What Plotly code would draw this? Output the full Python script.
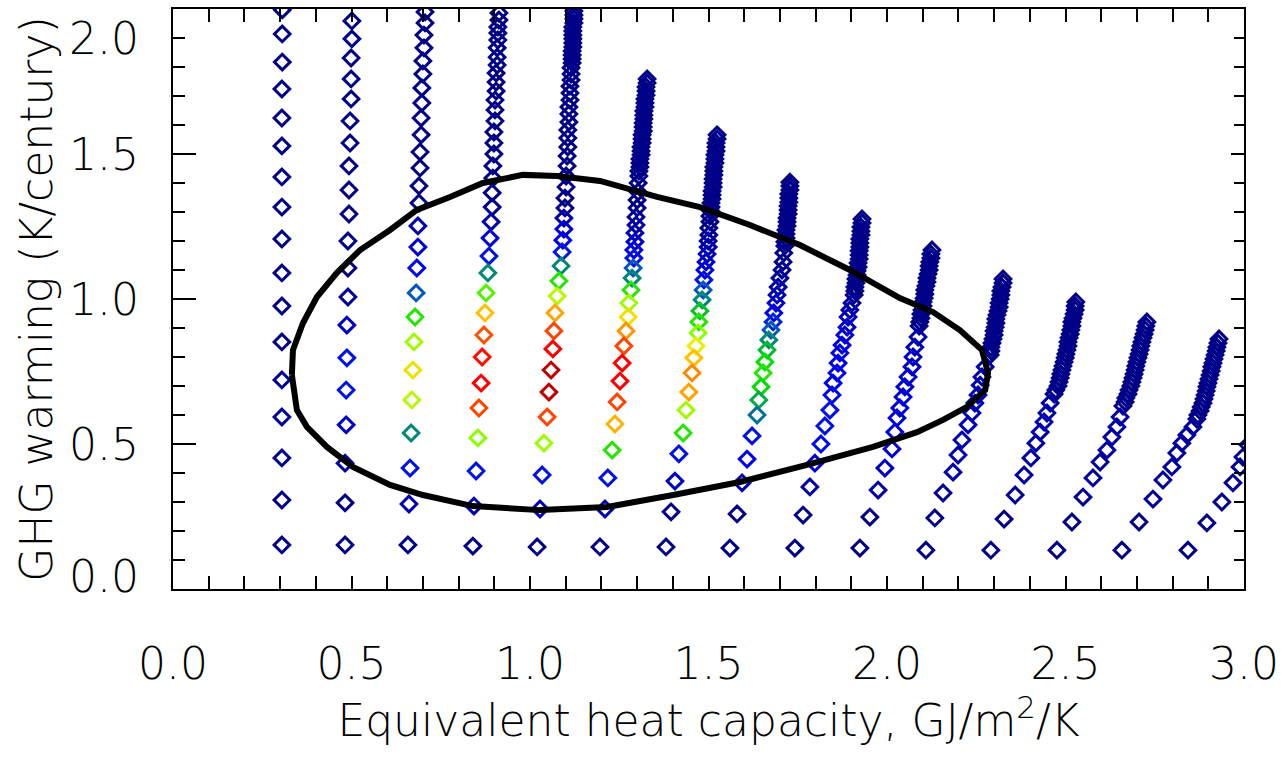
import numpy as np
import plotly.graph_objects as go

# ---------------- data ----------------
COL1_X = [0.306, 0.306, 0.306, 0.305, 0.305, 0.305, 0.305, 0.305, 0.305, 0.305, 0.305, 0.305, 0.305, 0.305, 0.305, 0.305, 0.305]
COL1_Y = [1.997, 1.914, 1.817, 1.724, 1.624, 1.528, 1.421, 1.317, 1.207, 1.090, 0.976, 0.852, 0.721, 0.593, 0.452, 0.307, 0.152]
COL1_S = [0, 0, 0, 0, 0, 0, 0, 0, 0, 0, 0, 0, 0.02, 0.03, 0.02, 0, 0]

COL2_X = [0.501, 0.501, 0.499, 0.499, 0.499, 0.496, 0.496, 0.493, 0.493, 0.493, 0.490, 0.490, 0.490, 0.487, 0.487, 0.485, 0.485, 0.482, 0.482, 0.482]
COL2_Y = [1.959, 1.897, 1.831, 1.759, 1.690, 1.614, 1.538, 1.459, 1.376, 1.293, 1.200, 1.107, 1.007, 0.910, 0.797, 0.686, 0.566, 0.434, 0.297, 0.152]
COL2_S = [0, 0, 0, 0, 0, 0, 0, 0, 0, 0, 0, 0, 0.02, 0.07, 0.14, 0.14, 0.08, 0.04, 0, 0]

COL3_X = [0.706, 0.706, 0.703, 0.703, 0.700, 0.700, 0.697, 0.697, 0.695, 0.695, 0.692, 0.692, 0.689, 0.689, 0.686, 0.686, 0.683, 0.681, 0.678, 0.675, 0.672, 0.669, 0.667, 0.664, 0.661, 0.658]
COL3_Y = [1.990, 1.952, 1.910, 1.866, 1.821, 1.776, 1.728, 1.676, 1.624, 1.566, 1.507, 1.452, 1.390, 1.331, 1.252, 1.179, 1.107, 1.021, 0.938, 0.852, 0.755, 0.652, 0.538, 0.417, 0.293, 0.152]
COL3_S = [0, 0, 0, 0, 0, 0, 0, 0, 0, 0, 0, 0, 0, 0, 0.05, 0.09, 0.13, 0.22, 0.42, 0.50, 0.58, 0.52, 0.30, 0.14, 0.05, 0]

COL4_X = [0.913, 0.913, 0.910, 0.910, 0.910, 0.908, 0.908, 0.908, 0.905, 0.905, 0.905, 0.902, 0.902, 0.902, 0.899, 0.899, 0.899, 0.896, 0.896, 0.894, 0.894, 0.891, 0.888, 0.885, 0.882, 0.877, 0.874, 0.871, 0.866, 0.863, 0.857, 0.854, 0.849, 0.843, 0.840]
COL4_Y = [1.986, 1.962, 1.938, 1.917, 1.893, 1.866, 1.834, 1.807, 1.779, 1.748, 1.717, 1.686, 1.652, 1.614, 1.576, 1.538, 1.500, 1.459, 1.417, 1.366, 1.317, 1.266, 1.210, 1.148, 1.090, 1.021, 0.952, 0.876, 0.800, 0.710, 0.624, 0.521, 0.407, 0.286, 0.148]
COL4_S = [0] * 21 + [0.05, 0.10, 0.14, 0.30, 0.45, 0.62, 0.78, 0.88, 0.90, 0.80, 0.48, 0.14, 0.05, 0]

COL5_X = [1.123, 1.123, 1.123, 1.123, 1.120, 1.120, 1.120, 1.120, 1.120, 1.120, 1.118, 1.118, 1.118, 1.118,
          1.115, 1.115, 1.115, 1.112, 1.112, 1.112, 1.109, 1.109, 1.109, 1.106, 1.106, 1.106, 1.104, 1.104, 1.101, 1.101, 1.098, 1.098,
          1.095, 1.095, 1.092, 1.090, 1.087, 1.081, 1.076, 1.070, 1.067, 1.064, 1.059, 1.053, 1.048, 1.039, 1.034, 1.028, 1.020]
COL5_Y = [1.993, 1.979, 1.966, 1.952, 1.938, 1.924, 1.910, 1.897, 1.883, 1.869, 1.855, 1.841, 1.828, 1.814,
          1.797, 1.776, 1.755, 1.734, 1.710, 1.686, 1.662, 1.638, 1.610, 1.583, 1.555, 1.524, 1.493, 1.459, 1.424, 1.386, 1.348, 1.314,
          1.279, 1.241, 1.203, 1.162, 1.114, 1.062, 1.010, 0.952, 0.890, 0.828, 0.755, 0.679, 0.593, 0.503, 0.393, 0.276, 0.145]
COL5_S = [0] * 32 + [0.05, 0.09, 0.12, 0.15, 0.30, 0.42, 0.52, 0.66, 0.80, 0.90, 1.00, 1.00, 0.80, 0.50, 0.14, 0.05, 0]

COL6_X = [1.328, 1.328, 1.325, 1.325, 1.325, 1.322, 1.322, 1.322, 1.319, 1.319, 1.319, 1.317, 1.317, 1.317, 1.314, 1.314, 1.314, 1.311, 1.311, 1.311, 1.308, 1.308, 1.308, 1.305,
          1.305, 1.303, 1.303, 1.300, 1.300, 1.297, 1.297, 1.294, 1.294, 1.291, 1.291, 1.289, 1.286, 1.283, 1.277, 1.275, 1.269, 1.263, 1.258, 1.252, 1.244, 1.238, 1.230, 1.218, 1.210, 1.196]
COL6_Y = [1.759, 1.745, 1.731, 1.717, 1.703, 1.690, 1.676, 1.662, 1.648, 1.634, 1.621, 1.607, 1.593, 1.579, 1.566, 1.552, 1.538, 1.524, 1.510, 1.497, 1.483, 1.469, 1.455, 1.441,
          1.424, 1.400, 1.369, 1.341, 1.314, 1.283, 1.255, 1.228, 1.197, 1.169, 1.141, 1.107, 1.072, 1.031, 0.986, 0.938, 0.890, 0.838, 0.779, 0.717, 0.645, 0.569, 0.479, 0.383, 0.276, 0.145]
COL6_S = [0] * 24 + [0, 0, 0, 0, 0, 0.02, 0.03, 0.05, 0.08, 0.12, 0.14, 0.22, 0.30, 0.42, 0.50, 0.58, 0.68, 0.80, 0.90, 0.90, 0.80, 0.64, 0.42, 0.14, 0.05, 0]

COL7_X = [1.524, 1.524, 1.521, 1.521, 1.521, 1.518, 1.518, 1.518, 1.515, 1.515, 1.515, 1.513, 1.513, 1.513, 1.510, 1.510, 1.510, 1.507, 1.507, 1.507,
          1.504, 1.504, 1.501, 1.501, 1.499, 1.499, 1.496, 1.493, 1.490, 1.487, 1.485, 1.482, 1.476, 1.473, 1.471, 1.465, 1.459, 1.454, 1.445, 1.437, 1.429, 1.417, 1.406, 1.395, 1.381]
COL7_Y = [1.566, 1.552, 1.538, 1.524, 1.510, 1.497, 1.483, 1.469, 1.455, 1.441, 1.428, 1.414, 1.400, 1.386, 1.372, 1.359, 1.345, 1.331, 1.317, 1.303,
          1.286, 1.266, 1.245, 1.221, 1.200, 1.179, 1.155, 1.128, 1.100, 1.066, 1.031, 0.997, 0.959, 0.921, 0.883, 0.838, 0.797, 0.745, 0.679, 0.617, 0.538, 0.466, 0.372, 0.266, 0.145]
COL7_S = [0] * 20 + [0, 0, 0, 0.02, 0.03, 0.04, 0.05, 0.08, 0.11, 0.14, 0.22, 0.30, 0.37, 0.42, 0.48, 0.56, 0.62, 0.70, 0.66, 0.50, 0.42, 0.14, 0.07, 0, 0]

COL8_X = [1.728, 1.728, 1.728, 1.725, 1.725, 1.725, 1.723, 1.723, 1.723, 1.720, 1.720, 1.720, 1.717, 1.717, 1.717, 1.714, 1.714,
          1.711, 1.709, 1.706, 1.700, 1.695, 1.692, 1.689, 1.683, 1.681, 1.675, 1.669, 1.664, 1.658, 1.653, 1.647, 1.641, 1.636, 1.622, 1.608, 1.594, 1.580, 1.560]
COL8_Y = [1.403, 1.390, 1.376, 1.362, 1.348, 1.334, 1.321, 1.307, 1.293, 1.279, 1.266, 1.252, 1.238, 1.224, 1.210, 1.197, 1.183,
          1.159, 1.128, 1.100, 1.072, 1.041, 1.014, 0.986, 0.952, 0.921, 0.893, 0.859, 0.824, 0.783, 0.745, 0.697, 0.652, 0.600, 0.528, 0.448, 0.366, 0.259, 0.141]
COL8_S = [0] * 17 + [0, 0, 0.02, 0.03, 0.04, 0.05, 0.08, 0.12, 0.16, 0.22, 0.30, 0.36, 0.40, 0.42, 0.40, 0.34, 0.26, 0.14, 0.12, 0.05, 0, 0]

COL9_X = [1.930, 1.930, 1.927, 1.927, 1.927, 1.924, 1.924, 1.924, 1.922, 1.922, 1.922, 1.919, 1.919, 1.916, 1.916, 1.913, 1.913, 1.910, 1.910, 1.908,
          1.902, 1.896, 1.891, 1.888, 1.882, 1.874, 1.868, 1.863, 1.860, 1.849, 1.846, 1.840, 1.826, 1.815, 1.798, 1.784, 1.765, 1.742]
COL9_Y = [1.276, 1.262, 1.248, 1.234, 1.221, 1.207, 1.193, 1.179, 1.166, 1.152, 1.138, 1.124, 1.110, 1.097, 1.083, 1.069, 1.055, 1.041, 1.028, 1.014,
          0.986, 0.962, 0.938, 0.903, 0.876, 0.841, 0.814, 0.779, 0.745, 0.710, 0.669, 0.617, 0.562, 0.500, 0.434, 0.352, 0.255, 0.141]
COL9_S = [0] * 20 + [0.03, 0.05, 0.06, 0.08, 0.09, 0.10, 0.11, 0.12, 0.12, 0.12, 0.13, 0.14, 0.14, 0.13, 0.10, 0.04, 0, 0]

COL10_X = [2.126, 2.123, 2.123, 2.120, 2.118, 2.118, 2.115, 2.112, 2.112, 2.109, 2.106, 2.106, 2.104, 2.101, 2.101, 2.098, 2.095, 2.095, 2.092, 2.090,
           2.087, 2.078, 2.073, 2.070, 2.059, 2.050, 2.045, 2.036, 2.028, 2.022, 2.014, 1.994, 1.975, 1.952, 1.924]
COL10_Y = [1.169, 1.155, 1.141, 1.128, 1.114, 1.100, 1.086, 1.072, 1.059, 1.045, 1.031, 1.017, 1.003, 0.990, 0.976, 0.962, 0.948, 0.934, 0.921, 0.907,
           0.869, 0.834, 0.800, 0.766, 0.731, 0.697, 0.662, 0.624, 0.590, 0.541, 0.483, 0.417, 0.341, 0.248, 0.141]
COL10_S = [0] * 20 + [0.05, 0.06, 0.07, 0.08, 0.08, 0.09, 0.10, 0.10, 0.10, 0.10, 0.09, 0.07, 0.04, 0, 0]

COL11_X = [2.325, 2.325, 2.322, 2.319, 2.319, 2.317, 2.314, 2.314, 2.311, 2.308, 2.305, 2.305, 2.303, 2.300, 2.300, 2.297, 2.294, 2.291, 2.291, 2.289,
           2.275, 2.266, 2.261, 2.255, 2.246, 2.238, 2.227, 2.210, 2.199, 2.185, 2.157, 2.134, 2.109]
COL11_Y = [1.069, 1.055, 1.041, 1.028, 1.014, 1.000, 0.986, 0.972, 0.959, 0.945, 0.931, 0.917, 0.903, 0.890, 0.876, 0.862, 0.848, 0.834, 0.821, 0.807,
           0.766, 0.731, 0.703, 0.669, 0.641, 0.607, 0.566, 0.514, 0.462, 0.403, 0.331, 0.245, 0.134]
COL11_S = [0] * 20 + [0.04, 0.05, 0.06, 0.06, 0.06, 0.06, 0.06, 0.05, 0.05, 0.04, 0.02, 0, 0]

COL12_X = [2.529, 2.527, 2.527, 2.524, 2.521, 2.518, 2.518, 2.515, 2.513, 2.510, 2.507, 2.507, 2.504, 2.501, 2.499, 2.496, 2.493, 2.490, 2.487, 2.485, 2.482, 2.479, 2.473, 2.468,
           2.457, 2.448, 2.440, 2.429, 2.417, 2.403, 2.384, 2.359, 2.328, 2.291]
COL12_Y = [0.990, 0.976, 0.962, 0.948, 0.934, 0.921, 0.907, 0.893, 0.879, 0.866, 0.852, 0.838, 0.824, 0.810, 0.797, 0.783, 0.769, 0.755, 0.741, 0.728, 0.714, 0.700, 0.686, 0.672,
           0.641, 0.607, 0.576, 0.541, 0.503, 0.452, 0.393, 0.324, 0.241, 0.134]
COL12_S = [0] * 24 + [0.04, 0.05, 0.05, 0.05, 0.04, 0.04, 0.03, 0.02, 0, 0]

COL13_X = [2.728, 2.725, 2.723, 2.720, 2.717, 2.714, 2.711, 2.709, 2.706, 2.703, 2.700, 2.697, 2.695, 2.692, 2.689, 2.686, 2.683, 2.678, 2.675, 2.669, 2.667, 2.661,
           2.653, 2.644, 2.630, 2.616, 2.597, 2.577, 2.549, 2.518, 2.476]
COL13_Y = [0.921, 0.907, 0.893, 0.879, 0.866, 0.852, 0.838, 0.824, 0.810, 0.797, 0.783, 0.769, 0.755, 0.741, 0.728, 0.714, 0.700, 0.686, 0.672, 0.659, 0.645, 0.631,
           0.593, 0.559, 0.524, 0.479, 0.438, 0.383, 0.317, 0.231, 0.134]
COL13_S = [0] * 22 + [0.04, 0.04, 0.04, 0.04, 0.03, 0.03, 0.02, 0, 0]

COL14_X = [2.930, 2.927, 2.924, 2.922, 2.919, 2.916, 2.913, 2.910, 2.908, 2.905, 2.902, 2.899, 2.896, 2.894, 2.891, 2.888, 2.885, 2.880, 2.877, 2.871, 2.868,
           2.857, 2.840, 2.826, 2.812, 2.798, 2.773, 2.745, 2.706, 2.658]
COL14_Y = [0.862, 0.848, 0.834, 0.821, 0.807, 0.793, 0.779, 0.766, 0.752, 0.738, 0.724, 0.710, 0.697, 0.683, 0.669, 0.655, 0.641, 0.628, 0.614, 0.600, 0.586,
           0.559, 0.531, 0.503, 0.469, 0.421, 0.376, 0.310, 0.231, 0.134]
COL14_S = [0] * 21 + [0.03, 0.03, 0.03, 0.03, 0.03, 0.02, 0.02, 0, 0]

COL15_X = [3.011, 2.997, 2.989, 2.969, 2.938, 2.896, 2.843]
COL15_Y = [0.497, 0.455, 0.421, 0.366, 0.300, 0.228, 0.134]
COL15_S = [0.02, 0.02, 0.02, 0.02, 0.02, 0, 0]

CONTOUR_X = [0.333, 0.336, 0.364, 0.403, 0.459, 0.524, 0.608, 0.683, 0.776, 0.868, 0.980, 1.076, 1.196, 1.272,
             1.356, 1.476, 1.616, 1.756, 1.896, 2.036, 2.129, 2.204, 2.266, 2.283, 2.275, 2.224, 2.157, 2.084,
             1.961, 1.776, 1.588, 1.401, 1.216, 1.028, 0.936, 0.840, 0.700, 0.608, 0.504, 0.431, 0.375, 0.347, 0.333]
CONTOUR_Y = [0.738, 0.824, 0.917, 1.007, 1.090, 1.169, 1.238, 1.307, 1.352, 1.400, 1.428, 1.424, 1.407, 1.379,
             1.352, 1.317, 1.255, 1.186, 1.100, 1.003, 0.955, 0.893, 0.824, 0.745, 0.686, 0.628, 0.583, 0.541,
             0.490, 0.428, 0.369, 0.324, 0.283, 0.272, 0.279, 0.286, 0.324, 0.359, 0.421, 0.490, 0.559, 0.617, 0.738]

X_TICK_VALUES = [0.0, 0.5, 1.0, 1.5, 2.0, 2.5, 3.0]
Y_TICK_VALUES = [0.0, 0.5, 1.0, 1.5, 2.0]
Y_TICK_LABELS = ["0.0", "0.5", "1.0", "1.5", "2.0"]
X_TITLE = "Equivalent heat capacity, GJ/m<sup>2</sup>/K"
Y_TITLE = "GHG warming (K/century)"

# ---------------- assembly ----------------
columns = [
    (COL1_X, COL1_Y, COL1_S), (COL2_X, COL2_Y, COL2_S), (COL3_X, COL3_Y, COL3_S),
    (COL4_X, COL4_Y, COL4_S), (COL5_X, COL5_Y, COL5_S), (COL6_X, COL6_Y, COL6_S),
    (COL7_X, COL7_Y, COL7_S), (COL8_X, COL8_Y, COL8_S), (COL9_X, COL9_Y, COL9_S),
    (COL10_X, COL10_Y, COL10_S), (COL11_X, COL11_Y, COL11_S), (COL12_X, COL12_Y, COL12_S),
    (COL13_X, COL13_Y, COL13_S), (COL14_X, COL14_Y, COL14_S), (COL15_X, COL15_Y, COL15_S),
]
for cx, cy, cs in columns:
    assert len(cx) == len(cy) == len(cs), (len(cx), len(cy), len(cs))

xs = np.concatenate([np.asarray(c[0], float) for c in columns])
ys = np.concatenate([np.asarray(c[1], float) for c in columns])
ss = np.concatenate([np.asarray(c[2], float) for c in columns])

RAINBOW = [
    [0.00, "#000088"], [0.12, "#0000F0"], [0.22, "#0058C0"], [0.30, "#008878"],
    [0.40, "#00DD00"], [0.48, "#88FF00"], [0.56, "#E8F000"], [0.62, "#FFC000"],
    [0.70, "#FF8800"], [0.80, "#FF4400"], [0.90, "#FF0000"], [1.00, "#C00000"],
]

FONT = dict(family="DejaVu Sans", size=44, color="black", weight=200)

fig = go.Figure()
fig.add_trace(go.Scatter(
    x=xs, y=ys, mode="markers", showlegend=False, hoverinfo="skip",
    marker=dict(symbol="diamond-open", size=12, color=ss, colorscale=RAINBOW,
                cmin=0, cmax=1, line=dict(width=3)),
))
fig.add_trace(go.Scatter(
    x=CONTOUR_X, y=CONTOUR_Y, yaxis="y2", mode="lines", showlegend=False,
    hoverinfo="skip", line=dict(color="black", width=6),
))

tick_common = dict(ticks="inside", tickwidth=2, tickcolor="black", showline=True,
                   linewidth=2, linecolor="black", showgrid=False, zeroline=False)

fig.update_layout(
    width=1281, height=770,
    margin=dict(l=173, r=37, t=9, b=181, autoexpand=False),
    paper_bgcolor="white", plot_bgcolor="white", font=FONT, showlegend=False,
    xaxis=dict(range=[0, 3], tickvals=X_TICK_VALUES, tickformat=".1f", ticklen=13,
               mirror="allticks", ticklabelstandoff=35,
               minor=dict(dtick=0.1, ticks="inside", ticklen=7, tickwidth=2, tickcolor="black"),
               title=dict(text=X_TITLE, standoff=0, font=FONT), **tick_common),
    yaxis=dict(range=[0, 2], tickvals=Y_TICK_VALUES, ticklen=23, showticklabels=False,
               minor=dict(dtick=0.1, ticks="inside", ticklen=12, tickwidth=2, tickcolor="black"),
               title=dict(text=Y_TITLE, standoff=105, font=FONT), **tick_common),
    yaxis2=dict(range=[0, 2], overlaying="y", side="right", tickvals=Y_TICK_VALUES, ticklen=13,
                showticklabels=False,
                minor=dict(dtick=0.1, ticks="inside", ticklen=10, tickwidth=2, tickcolor="black"),
                **tick_common),
)

label_shift = {0.0: 13, 2.0: -29}
for v, t in zip(Y_TICK_VALUES, Y_TICK_LABELS):
    fig.add_annotation(x=0, xref="paper", y=v, yref="y", text=t, showarrow=False,
                       xanchor="right", yanchor="middle", xshift=-32,
                       yshift=label_shift.get(v, 0), font=FONT)

fig.write_html("out.html")
